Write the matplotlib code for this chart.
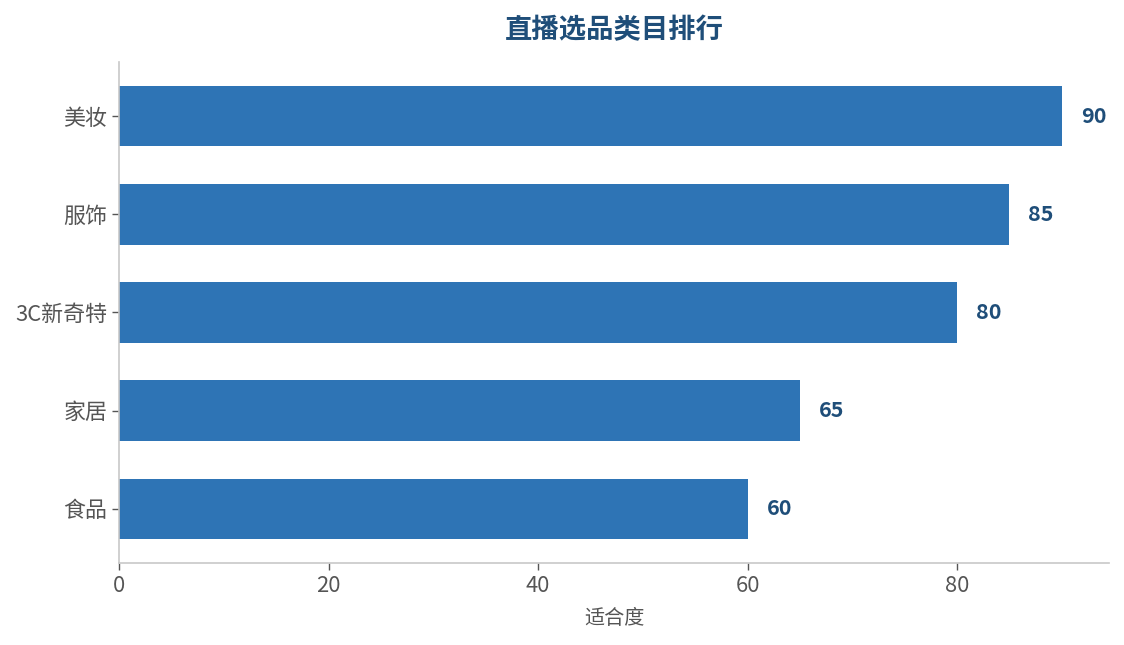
import matplotlib
matplotlib.use("Agg")
import matplotlib.pyplot as plt

plt.rcParams['font.family'] = ['Noto Sans CJK SC', 'DejaVu Sans']

categories = ["食品", "家居", "3C新奇特", "服饰", "美妆"]
values = [60, 65, 80, 85, 90]
xticks = [0, 20, 40, 60, 80]
title = "直播选品类目排行"
xlabel = "适合度"

bar_color = "#2E74B5"
dark_blue = "#1F4E79"
gray_text = "#555555"
spine_color = "#C8C8C8"

fig = plt.figure(figsize=(11.24, 6.45), dpi=100)
ax = fig.add_axes([119/1124, 1-563/645, (1109-119)/1124, (563-62)/645])

y = list(range(len(categories)))
ax.barh(y, values, height=0.62, color=bar_color)
ax.set_yticks(y)
ax.set_yticklabels(categories)
ax.set_xticks(xticks)
ax.set_xlim(0, max(values)*1.05)
ax.set_ylim(-0.55, len(categories)-1+0.55)

for yi, v in zip(y, values):
    ax.text(v + max(values)*0.02, yi, f"{v}", va='center', ha='left',
            fontsize=15.5, fontweight='bold', color=dark_blue)

ax.set_title(title, fontsize=19.7, fontweight='bold', color=dark_blue, pad=17)
ax.set_xlabel(xlabel, fontsize=14.5, color=gray_text, labelpad=8)

for s in ['top', 'right']:
    ax.spines[s].set_visible(False)
for s in ['left', 'bottom']:
    ax.spines[s].set_color(spine_color)
    ax.spines[s].set_linewidth(1.2)
ax.tick_params(axis='both', colors=gray_text, labelsize=15.8, length=5, width=1)
ax.tick_params(axis='both', labelcolor=gray_text)

fig.savefig("out.png", dpi=100)
